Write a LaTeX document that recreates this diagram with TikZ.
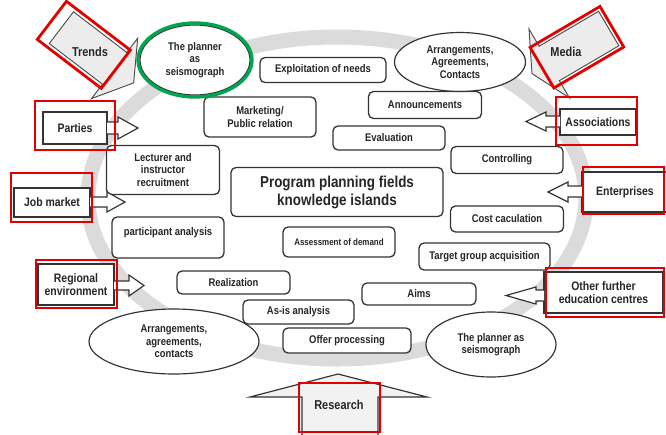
\documentclass[tikz,border=0pt]{standalone}
\usepackage{fontspec}
\setmainfont{Liberation Sans}[FakeStretch=0.85]
\usetikzlibrary{shapes.geometric}
\definecolor{frame}{RGB}{228,0,0}
\definecolor{plannergreen}{RGB}{0,165,80}
\tikzset{
  isle/.style={draw=black!80, line width=1.1pt, rounded corners=1.5mm, fill=white, align=center, inner sep=1pt, text=black!85, font=\fontsize{9.5}{10.6}\selectfont\bfseries},
  oval/.style={ellipse, draw=black!80, line width=1pt, fill=white, align=center, inner sep=0pt, text=black!85, font=\fontsize{9.5}{10.6}\selectfont\bfseries},
  factor/.style={draw=black!80, line width=1pt, fill=white, align=center, inner sep=1pt, text=black!85, font=\fontsize{10.5}{11.5}\selectfont\bfseries},
  label/.style={text=black!85, align=center, font=\fontsize{11}{12}\selectfont\bfseries},
  pointer/.style={draw=black!80, line width=1pt, fill=white, line join=miter},
  tilted/.style={draw=black!70, line width=0.8pt, fill=gray!15, line join=miter},
  redbox/.style={draw=frame, line width=2.4pt}
}
\begin{document}
\begin{tikzpicture}[x=0.3mm, y=-0.3mm]
    \useasboundingbox (0,0) rectangle (666,434);
    \fill[white] (0,0) rectangle (666,434);

    \draw[gray!28, line width=4.5mm] (337,198) ellipse [x radius=249, y radius=161];

    \node[oval, minimum width=33mm, minimum height=21mm] (seisA) at (195,60) {The planner\\as\\seismograph};
    \node[oval, minimum width=39.3mm, minimum height=17.7mm] (arrA) at (460,62) {Arrangements,\\Agreements,\\Contacts};
    \node[oval, minimum width=51mm, minimum height=19.5mm] (arrB) at (174,341.5) {Arrangements,\\agreements,\\contacts};
    \node[oval, minimum width=39mm, minimum height=19.5mm] (seisB) at (491,344.5) {The planner as\\seismograph};

    \node[isle, minimum width=37.8mm, minimum height=7.5mm] (needs) at (323,70) {Exploitation of needs};
    \node[isle, minimum width=33.9mm, minimum height=8.1mm] (announce) at (425,105) {Announcements};
    \node[isle, minimum width=33.6mm, minimum height=12mm] (marketing) at (260,117) {Marketing/\\Public relation};
    \node[isle, minimum width=33.6mm, minimum height=7.2mm] (eval) at (389,138) {Evaluation};
    \node[isle, minimum width=33.6mm, minimum height=8.1mm] (control) at (507,160) {Controlling};
    \node[isle, minimum width=33.9mm, minimum height=14.7mm] (lecturer) at (163,170) {Lecturer and\\instructor\\recruitment};
    \node[isle, minimum width=63.6mm, minimum height=14.7mm, font=\fontsize{13.5}{15.3}\selectfont\bfseries] (title) at (337,192) {Program planning fields\\knowledge islands};
    \node[isle, minimum width=33.9mm, minimum height=7.8mm] (cost) at (507,219) {Cost caculation};
    \node[isle, minimum width=33.6mm, minimum height=12.3mm] (partic) at (168,237.5) {participant analysis\\[-1pt]\mbox{}};
    \node[isle, minimum width=33.6mm, minimum height=9mm, font=\fontsize{8}{9}\selectfont\bfseries] (assess) at (339,242) {Assessment of demand};
    \node[isle, minimum width=39.3mm, minimum height=8.1mm] (target) at (484.5,256.5) {Target group acquisition};
    \node[isle, minimum width=33.9mm, minimum height=6.9mm] (realiz) at (233.5,282.5) {Realization};
    \node[isle, minimum width=34.2mm, minimum height=6.6mm] (aims) at (419,294) {Aims};
    \node[isle, minimum width=33.3mm, minimum height=7.2mm] (asis) at (298.5,312) {As-is analysis};
    \node[isle, minimum width=38.4mm, minimum height=7.5mm] (offer) at (347,340.5) {Offer processing};

    \draw[plannergreen, line width=1mm] (seisA.center) ellipse [x radius=57, y radius=37];

    \begin{scope}[shift={(88,48)}, rotate=-37.4]
        \draw[tilted] (-33.5,-20) -- (33.5,-20) -- (33.5,-38) -- (57.5,0) -- (33.5,38) -- (33.5,20) -- (-33.5,20) -- cycle;
        \draw[redbox] (-45.5,-24) rectangle (35,24);
    \end{scope}
    \node[label] (trends) at (90,52) {Trends};

    \begin{scope}[shift={(579,46)}, rotate=30.4]
        \draw[tilted] (34.5,-20) -- (-34.5,-20) -- (-34.5,-40) -- (-54.5,0) -- (-34.5,40) -- (-34.5,20) -- (34.5,20) -- cycle;
        \draw[redbox] (-42.9,-23.5) rectangle (38.1,23.5);
    \end{scope}
    \node[label] (media) at (566,52) {Media};

    \node[factor, minimum width=19.2mm, minimum height=9.6mm] (parties) at (75,128) {Parties};
    \node[factor, minimum width=22.8mm, minimum height=8.7mm] (jobs) at (52,202.5) {Job market};
    \node[factor, minimum width=22.8mm, minimum height=12.3mm] (region) at (76,284.5) {Regional\\environment};
    \node[factor, minimum width=22.8mm, minimum height=7.8mm] (assoc) at (598,122) {Associations};
    \node[factor, minimum width=25.8mm, minimum height=12mm] (firms) at (625,192) {Enterprises};
    \node[factor, minimum width=35.7mm, minimum height=12.3mm] (centres) at (603.5,292.5) {Other further\\education centres};

    \draw[pointer] (107,122) -- (118,122) -- (118,117) -- (138,128) -- (118,139) -- (118,134) -- (107,134);
    \draw[pointer] (90,197) -- (107,197) -- (107,192) -- (125,202) -- (107,212) -- (107,207) -- (90,207);
    \draw[pointer] (114,281) -- (129,281) -- (129,275) -- (144,285.5) -- (129,296) -- (129,290) -- (114,290);
    \draw[pointer] (560,116) -- (546,116) -- (546,112) -- (526,121.5) -- (546,131) -- (546,127) -- (560,127);
    \draw[pointer] (582,186) -- (568,186) -- (568,182) -- (548,192) -- (568,202) -- (568,197) -- (582,197);
    \draw[pointer] (544,290) -- (536,290) -- (536,287) -- (506,295.5) -- (536,304) -- (536,301) -- (544,301);

    \draw[pointer, fill=gray!10] (302,436) -- (302,397) -- (250,397) -- (338,374) -- (427,397) -- (378,397) -- (378,436);
    \node[label] (research) at (339,405) {Research};

    \draw[redbox] (35,101) rectangle (115,150);
    \draw[redbox] (11,173) rectangle (92,222);
    \draw[redbox] (36,260) rectangle (117,308);
    \draw[redbox] (556,97) rectangle (637,145);
    \draw[redbox] (583,167) rectangle (664,214);
    \draw[redbox] (546,268) rectangle (664,317);
    \draw[redbox] (299,383) rectangle (380,432);

\end{tikzpicture}
\end{document}
